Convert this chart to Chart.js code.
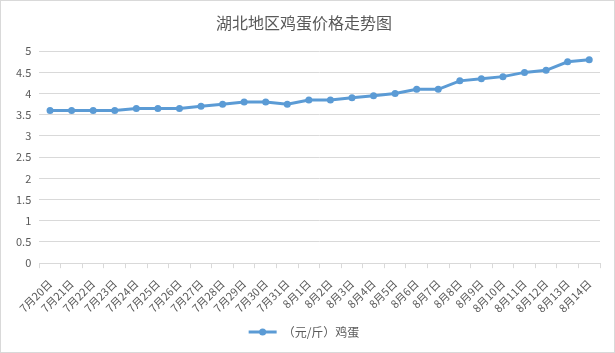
<!DOCTYPE html>
<html><head><meta charset="utf-8">
<script src="https://cdn.jsdelivr.net/npm/chart.js@4/dist/chart.umd.min.js"></script>
<style>
html,body{margin:0;padding:0;background:#fff;}
#wrap{position:absolute;left:0;top:0;width:613px;height:351px;border:1px solid #d9d9d9;}
</style></head><body>
<div id="wrap"><canvas id="c" width="613" height="351"></canvas></div>
<script>
const categories = ["7月20日","7月21日","7月22日","7月23日","7月24日","7月25日","7月26日","7月27日","7月28日","7月29日","7月30日","7月31日","8月1日","8月2日","8月3日","8月4日","8月5日","8月6日","8月7日","8月8日","8月9日","8月10日","8月11日","8月12日","8月13日","8月14日"];
const eggPrice = [3.6,3.6,3.6,3.6,3.65,3.65,3.65,3.7,3.75,3.8,3.8,3.75,3.85,3.85,3.9,3.95,4.0,4.1,4.1,4.3,4.35,4.4,4.5,4.55,4.75,4.8];
const seriesName = "（元/斤）鸡蛋";
const titleText = "湖北地区鸡蛋价格走势图";
const FONT = "'Noto Sans CJK SC','Microsoft YaHei',sans-serif";
const BLUE = "#5B9BD5";

const legendDot = {
  id:'legendDot',
  afterDraw(chart){
    const lg = chart.legend;
    if(!lg || !lg.legendHitBoxes || !lg.legendHitBoxes.length) return;
    const hb = lg.legendHitBoxes[0];
    const bw = lg.options.labels.boxWidth;
    const ctx = chart.ctx;
    ctx.save();
    ctx.fillStyle = BLUE;
    ctx.beginPath();
    ctx.arc(hb.left + bw/2, hb.top + hb.height/2, 3.5, 0, Math.PI*2);
    ctx.fill();
    ctx.restore();
  }
};

new Chart(document.getElementById('c'), {
  type:'line',
  data:{labels:categories, datasets:[{label:seriesName, data:eggPrice, borderColor:BLUE, backgroundColor:BLUE, borderWidth:3, pointRadius:3.5, pointBackgroundColor:BLUE, pointBorderWidth:0, tension:0}]},
  options:{
    responsive:false, animation:false,
    layout:{padding:{left:7,right:14,top:4,bottom:4}},
    plugins:{
      title:{display:true, text:titleText, color:'#595959', font:{family:FONT, size:16, weight:'normal'}, padding:{top:8,bottom:19}},
      legend:{display:true, position:'bottom',
        labels:{color:'#595959', font:{family:FONT, size:12}, boxWidth:28, boxHeight:3, padding:10,
          generateLabels(chart){ return [{text:seriesName, fillStyle:BLUE, strokeStyle:BLUE, lineWidth:0, datasetIndex:0, fontColor:'#595959'}]; }}},
      tooltip:{enabled:false}
    },
    scales:{
      x:{offset:true,
        grid:{offset:true, drawOnChartArea:false, drawTicks:true, tickLength:5, color:'#d9d9d9'},
        border:{color:'#d9d9d9'},
        ticks:{color:'#595959', font:{family:FONT, size:11}, maxRotation:45, minRotation:45, autoSkip:false, padding:9},
        afterFit(s){ s.height -= 8; }},
      y:{min:0, max:5,
        grid:{color:'#d9d9d9', drawTicks:false},
        border:{display:false},
        ticks:{stepSize:0.5, color:'#595959', font:{family:FONT, size:11}, padding:8, callback:v=>String(v)}}
    }
  },
  plugins:[legendDot]
});
</script></body></html>
